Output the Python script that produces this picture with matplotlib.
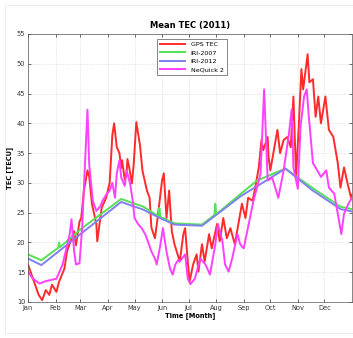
#!/usr/bin/env python3
# Mean TEC 2011 - GPS vs IRI-2007 / IRI-2012 / NeQuick 2
import matplotlib
matplotlib.use('Agg')
import matplotlib.pyplot as plt
from matplotlib.patches import Rectangle

# month ticks (day of year)
month_days = [0, 31, 59, 90, 120, 151, 181, 212, 243, 273, 304, 334]
month_labels = ['Jan', 'Feb', 'Mar', 'Apr', 'May', 'Jun',
                'Jul', 'Aug', 'Sep', 'Oct', 'Nov', 'Dec']

# GPS TEC
gps_day = [0, 12, 16, 20, 24, 27, 32, 35, 41, 44, 49, 52, 54, 58, 60, 63, 67, 69, 72,
           77, 78, 83, 88, 92, 95, 97, 100, 103, 105, 106, 109, 111, 112, 114, 117,
           119, 122, 126, 129, 134, 137, 139, 143, 146, 151, 153, 156, 159, 162, 165,
           171, 175, 177, 180, 182, 186, 190, 192, 196, 199, 204, 207, 213, 216, 220,
           224, 228, 233, 237, 241, 245, 248, 253, 256, 260, 263, 265, 270, 271, 273,
           277, 281, 284, 288, 292, 296, 299, 302, 305, 308, 310, 315, 317, 321, 324,
           327, 330, 335, 339, 344, 349, 352, 356, 360, 364, 365]
gps_tec = [16.3, 11.2, 10.3, 12.0, 11.2, 12.9, 11.7, 13.4, 15.6, 18.5, 20.7, 21.9, 19.5,
           23.5, 24.1, 28.7, 32.1, 31.0, 26.5, 23.1, 20.2, 25.8, 27.5, 30.0, 38.0, 40.0,
           36.0, 35.0, 32.5, 33.8, 30.5, 31.5, 34.0, 32.6, 29.9, 33.0, 40.2, 36.5, 32.0,
           28.7, 27.5, 22.5, 20.7, 24.1, 30.4, 31.6, 24.1, 28.7, 21.9, 19.7, 16.8, 21.4,
           22.4, 16.8, 13.4, 16.3, 18.0, 15.1, 19.7, 16.8, 21.4, 19.0, 23.1, 20.2, 24.1,
           20.7, 22.4, 19.7, 23.1, 26.5, 24.1, 27.5, 27.0, 29.2, 32.6, 37.2, 35.5, 37.7,
           34.3, 32.1, 35.5, 38.9, 35.0, 37.2, 37.7, 36.0, 44.5, 31.0, 39.4, 49.1, 45.7,
           51.6, 46.9, 47.4, 41.1, 44.5, 40.0, 44.5, 38.9, 37.7, 33.3, 29.2, 32.6, 29.9,
           27.5, 28.0]

# IRI-2007
iri07_day = [0, 15, 34, 35, 36, 60, 105, 130, 147, 148, 149, 165, 196, 210, 211, 212,
             240, 258, 290, 320, 352, 365]
iri07_tec = [18.0, 17.0, 19.1, 20.0, 19.2, 22.3, 27.3, 26.0, 24.4, 25.8, 24.3, 23.2, 23.0,
             24.6, 26.5, 24.7, 28.2, 30.4, 32.4, 29.2, 26.0, 25.6]

# IRI-2012
iri12_day = [0, 15, 60, 105, 130, 150, 165, 196, 240, 275, 290, 320, 352, 365]
iri12_tec = [17.3, 16.2, 21.5, 26.8, 25.5, 24.0, 23.0, 22.8, 27.8, 31.0, 32.4, 28.8, 25.6, 25.2]

# NeQuick 2
neq_day = [0, 5, 13, 20, 32, 39, 47, 49, 52, 54, 58, 61, 64, 67, 69, 73, 77, 81, 84, 88,
           92, 95, 98, 100, 103, 105, 109, 111, 115, 118, 120, 124, 128, 132, 135, 139,
           143, 145, 149, 152, 156, 160, 163, 166, 169, 171, 177, 180, 183, 188, 194,
           200, 205, 211, 214, 219, 222, 226, 230, 236, 239, 243, 247, 251, 254, 258,
           262, 266, 270, 275, 282, 288, 294, 297, 299, 304, 307, 311, 314, 316, 321,
           324, 330, 336, 339, 345, 349, 353, 356, 361, 365]
neq_tec = [15.1, 14.0, 13.1, 13.5, 13.9, 16.3, 21.4, 23.9, 18.5, 16.3, 16.5, 22.4, 32.6,
           42.3, 33.0, 27.0, 25.3, 26.0, 27.0, 28.0, 28.7, 30.0, 27.5, 31.6, 33.8, 30.9,
           29.5, 32.1, 29.9, 27.0, 24.1, 23.1, 22.4, 21.4, 20.2, 18.5, 17.3, 16.3, 19.5,
           22.4, 18.5, 15.6, 14.6, 16.3, 17.0, 16.8, 18.0, 13.9, 13.0, 13.9, 17.3, 16.3,
           14.6, 19.7, 23.1, 20.2, 16.3, 15.1, 17.3, 21.4, 19.7, 19.0, 21.9, 24.8, 27.0,
           29.2, 31.6, 45.7, 30.4, 30.9, 27.5, 32.1, 38.3, 42.3, 32.6, 29.0, 39.4, 44.5,
           45.7, 41.8, 33.3, 32.6, 31.0, 32.1, 29.2, 28.2, 24.8, 21.4, 24.8, 26.5, 27.5]

fig = plt.figure(figsize=(3.53, 3.38), dpi=100)
fig.patches.append(Rectangle((5 / 353, 5 / 338), 1.0, 333 / 338 - 5 / 338,
                             transform=fig.transFigure, fill=False,
                             edgecolor='#eeeeee', lw=0.8))
ax = fig.add_axes([28 / 353, 36 / 338, 324 / 353, 268 / 338])

ax.plot(gps_day, gps_tec, color='#ff2a2a', lw=1.4, label='GPS TEC')
ax.plot(iri07_day, iri07_tec, color='#55e055', lw=1.4, label='IRI-2007')
ax.plot(iri12_day, iri12_tec, color='#8080f0', lw=1.4, label='IRI-2012')
ax.plot(neq_day, neq_tec, color='#ff40ff', lw=1.4, label='NeQuick 2')

ax.set_xlim(0, 365)
ax.set_ylim(10, 55)
ax.set_xticks(month_days)
ax.set_xticklabels(month_labels)
ax.set_yticks(range(10, 56, 5))
ax.tick_params(direction='in', length=2, width=0.5, labelsize=4.8, pad=2,
               top=True, right=True, colors='#333333')
ax.grid(True, linestyle=':', color='#d0d0d0', lw=0.5)
for s in ax.spines.values():
    s.set_linewidth(0.5)
    s.set_color('#555555')

ax.set_title('Mean TEC (2011)', fontsize=6, fontweight='bold', pad=4)
ax.set_xlabel('Time [Month]', fontsize=4.8, fontweight='bold', labelpad=1)
ax.set_ylabel('TEC [TECU]', fontsize=4.8, fontweight='bold', labelpad=3)

leg = ax.legend(loc='upper center', bbox_to_anchor=(0.505, 0.995), fontsize=4.6,
                handlelength=4.0, borderpad=0.5, labelspacing=0.45,
                fancybox=False, framealpha=1)
leg.get_frame().set_linewidth(0.5)
leg.get_frame().set_edgecolor('#555555')

plt.savefig('out.png', dpi=100, facecolor='white')
